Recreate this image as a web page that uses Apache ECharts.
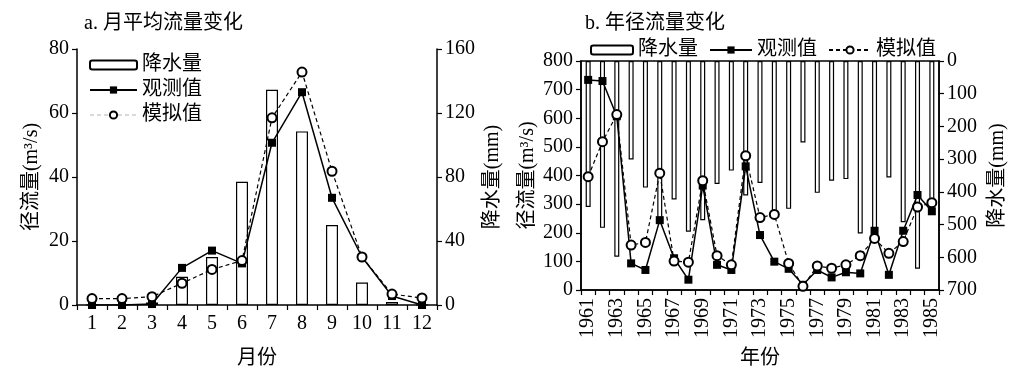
<!DOCTYPE html>
<html><head><meta charset="utf-8">
<script src="https://cdn.jsdelivr.net/npm/echarts@6/dist/echarts.min.js"></script>
<style>html,body{margin:0;padding:0;background:#fff}#c{width:1019px;height:374px}</style>
</head><body><div id="c"></div>
<script>
// ---- Panel a: monthly ----
var months = ['1','2','3','4','5','6','7','8','9','10','11','12'];
var monthPrecip = [0, 0, 1.5, 17.6, 30, 77, 134.5, 108.5, 50, 14, 1.8, 0];
var monthObserved = [0, 0, 0.3, 11.6, 17, 13, 50.7, 66.5, 33.5, 15, 2.8, 0];
var monthSimulated = [2.0, 2.0, 2.6, 6.8, 11.1, 13.9, 58.5, 72.8, 41.8, 15, 3.4, 2.2];
// ---- Panel b: annual ----
var years = ['1961','1962','1963','1964','1965','1966','1967','1968','1969','1970','1971','1972','1973','1974','1975','1976','1977','1978','1979','1980','1981','1982','1983','1984','1985'];
var yearPrecip = [446, 510, 598, 301, 387, 491, 423, 522, 487, 376, 335, 411, 373, 461, 452, 249, 403, 366, 361, 527, 520, 356, 493, 635, 457];
var yearObserved = [734, 730, 607, 93, 70, 244, 111, 36, 365, 88, 70, 432, 192, 99, 74, 18, 70, 44, 62, 58, 207, 53, 207, 332, 275];
var yearSimulated = [396, 518, 613, 157, 166, 408, 101, 97, 382, 120, 88, 469, 253, 264, 93, 13, 84, 76, 88, 120, 180, 128, 169, 290, 305];

var FONT = "'Liberation Serif','Noto Sans CJK SC',serif";
var txt = {fontFamily: FONT, fontSize: 20, color: '#000'};
function axisBase(extra){
  var o = {
    axisLine:{show:true,lineStyle:{color:'#000',width:1.5}},
    axisTick:{show:true,inside:false,length:5,lineStyle:{color:'#000',width:1.2}},
    axisLabel:Object.assign({margin:8},txt),
    splitLine:{show:false},
    nameTextStyle:txt,
    nameMoveOverlap:false
  };
  return Object.assign(o, extra);
}
var chart = echarts.init(document.getElementById('c'), null, {renderer:'canvas'});
var option = {
  backgroundColor:'#fff',
  animation:false,
  textStyle:{fontFamily:FONT},
  title:[
    {text:'a. 月平均流量变化', left:79, top:9, textStyle:{fontFamily:FONT,fontSize:20,fontWeight:'normal',color:'#000'}},
    {text:'b. 年径流量变化', left:580, top:9, textStyle:{fontFamily:FONT,fontSize:20,fontWeight:'normal',color:'#000'}}
  ],
  legend:[
    {orient:'vertical', left:84, top:50, itemWidth:47, itemHeight:9, itemGap:5,
     textStyle:txt,
     data:[{name:'降水量'},{name:'观测值'},{name:'模拟值', lineStyle:{opacity:0.15}}]},
    {orient:'horizontal', left:585, top:35, itemWidth:42, itemHeight:9, itemGap:6,
     textStyle:txt, data:['降水量 ','观测值 ','模拟值 ']}
  ],
  grid:[
    {left:77, right:582, top:49, bottom:66},
    {left:581, right:80, top:61, bottom:82, show:true, borderColor:'#000', borderWidth:1.5, backgroundColor:'transparent'}
  ],
  xAxis:[
    axisBase({type:'category', gridIndex:0, data:months, boundaryGap:true,
      axisTick:{show:true,inside:false,length:5,interval:0,lineStyle:{color:'#000',width:1.2}},
      axisLabel:Object.assign({margin:9,interval:0},txt),
      name:'月份', nameLocation:'middle', nameGap:44}),
    axisBase({type:'category', gridIndex:1, data:years, boundaryGap:true,
      axisTick:{show:true,inside:false,length:5,interval:0,lineStyle:{color:'#000',width:1.2}},
      axisLabel:Object.assign({margin:8,interval:1,rotate:90},txt),
      name:'年份', nameLocation:'middle', nameGap:59})
  ],
  yAxis:[
    axisBase({type:'value', gridIndex:0, min:0, max:80, interval:20, position:'left',
      name:'径流量(m³/s)', nameLocation:'middle', nameGap:35, nameRotate:90}),
    axisBase({type:'value', gridIndex:0, min:0, max:160, interval:40, position:'right',
      name:'降水量(mm)', nameLocation:'middle', nameGap:46, nameRotate:90}),
    axisBase({type:'value', gridIndex:1, min:0, max:800, interval:100, position:'left',
      name:'径流量(m³/s)', nameLocation:'middle', nameGap:43, nameRotate:90}),
    axisBase({type:'value', gridIndex:1, min:0, max:700, interval:100, position:'right', inverse:true,
      name:'降水量(mm)', nameLocation:'middle', nameGap:49, nameRotate:90})
  ],
  series:[
    {name:'降水量', type:'bar', xAxisIndex:0, yAxisIndex:1, data:monthPrecip, barWidth:12,
     itemStyle:{color:'#fff', borderColor:'#000', borderWidth:1.2}, z:1},
    {name:'观测值', type:'line', xAxisIndex:0, yAxisIndex:0, data:monthObserved, showAllSymbol:true,
     symbol:'rect', symbolSize:8, lineStyle:{color:'#000', width:1.5},
     itemStyle:{color:'#000'}, z:3},
    {name:'模拟值', type:'line', xAxisIndex:0, yAxisIndex:0, data:monthSimulated, showAllSymbol:true,
     symbol:'emptyCircle', symbolSize:9, lineStyle:{color:'#000', width:1.2, type:[4,3]},
     itemStyle:{color:'#000', borderColor:'#000', borderWidth:1.2}, z:4},
    {name:'降水量 ', type:'bar', xAxisIndex:1, yAxisIndex:3, data:yearPrecip, barWidth:5,
     itemStyle:{color:'#fff', borderColor:'#000', borderWidth:1.2}, z:1},
    {name:'观测值 ', type:'line', xAxisIndex:1, yAxisIndex:2, data:yearObserved, showAllSymbol:true,
     symbol:'rect', symbolSize:8, lineStyle:{color:'#000', width:1.5},
     itemStyle:{color:'#000'}, z:3},
    {name:'模拟值 ', type:'line', xAxisIndex:1, yAxisIndex:2, data:yearSimulated, showAllSymbol:true,
     symbol:'emptyCircle', symbolSize:9, lineStyle:{color:'#000', width:1.2, type:[4,3]},
     itemStyle:{color:'#000', borderColor:'#000', borderWidth:1.3}, z:4}
  ]
};
chart.setOption(option);
</script></body></html>
